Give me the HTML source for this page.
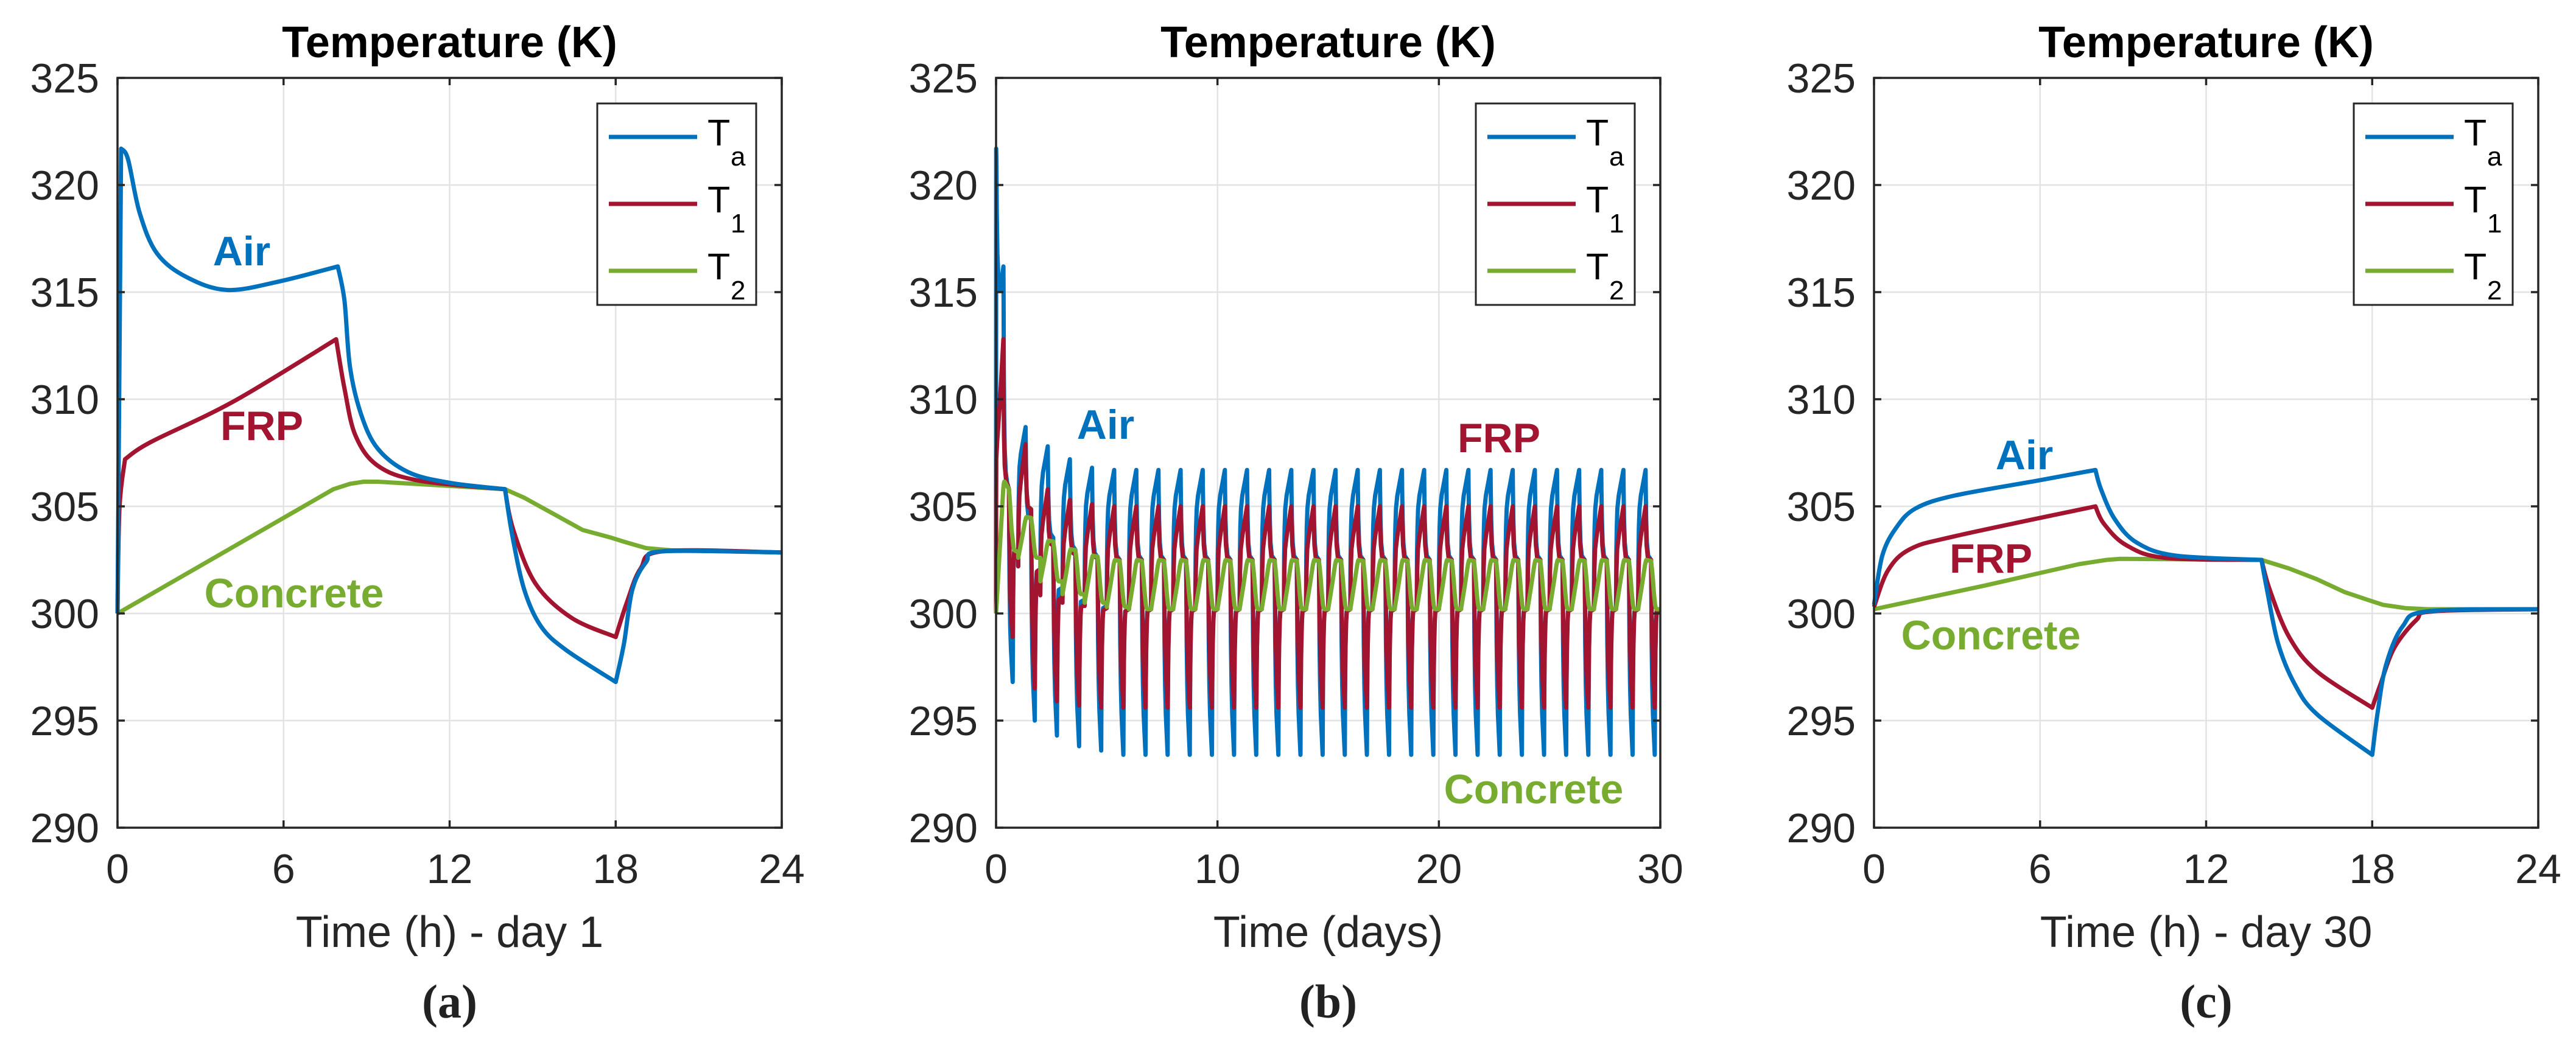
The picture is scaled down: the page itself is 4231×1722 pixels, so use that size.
<!DOCTYPE html>
<html><head><meta charset="utf-8"><style>
html,body{margin:0;padding:0;background:#fff;}
svg{display:block;}
text{font-family:"Liberation Sans",Arial,sans-serif;}
</style></head><body>
<svg id="fig" width="4231" height="1722" viewBox="0 0 4231 1722" xmlns="http://www.w3.org/2000/svg"></svg>
<script>
// ---- data ----
const yTicks = [290, 295, 300, 305, 310, 315, 320, 325];
const hourTicks = [0, 6, 12, 18, 24];
const dayTicks = [0, 10, 20, 30];

// Panel (a) day 1 (hours)
const aTaH = [0, 0.13, 0.38, 0.8, 1.43, 2.5, 3.96, 5.85, 7.96, 8.2, 8.4, 8.8, 9.4, 10.5, 12, 14, 14.27, 14.7, 15.3, 16.2, 18, 18.3, 18.6, 19.1, 19.7, 24];
const aTaV = [300, 321.7, 321.2, 318.7, 316.8, 315.7, 315.1, 315.5, 316.2, 314.6, 311.5, 309.3, 307.7, 306.6, 306.1, 305.8, 303.6, 301.1, 299.4, 298.3, 296.8, 298.6, 301.1, 302.4, 302.9, 302.85];
const aT1H = [0, 0.07, 0.27, 1.2, 4.2, 7.9, 8.2, 8.6, 9.4, 10.9, 14, 14.3, 15.1, 16.4, 18, 18.4, 18.9, 19.7, 24];
const aT1V = [300, 304.9, 307.2, 308.0, 309.9, 312.8, 310.5, 308.3, 306.9, 306.2, 305.8, 303.9, 301.4, 299.8, 298.9, 300.5, 302.1, 302.9, 302.85];
const aT2H = [0, 7.8, 8.4, 8.9, 9.4, 14, 14.7, 16.8, 17.8, 18.3, 19.1, 20, 24];
const aT2V = [300, 305.8, 306.05, 306.15, 306.15, 305.8, 305.4, 303.9, 303.55, 303.35, 303.05, 302.95, 302.85];

// Panel (c) day 30 (hours)
const cTaH = [0, 0.3, 0.8, 1.5, 2.9, 5.9, 8.0, 8.2, 8.7, 9.5, 10.9, 14, 14.2, 14.6, 15.2, 16, 18, 18.2, 18.5, 19.1, 20, 24];
const cTaV = [300.4, 302.7, 304.0, 304.9, 305.5, 306.2, 306.7, 305.8, 304.4, 303.3, 302.7, 302.5, 301.1, 298.6, 296.7, 295.3, 293.4, 295.4, 297.6, 299.4, 300.1, 300.2];
const cT1H = [0, 0.5, 1.3, 2.9, 8.0, 8.3, 9.1, 10.5, 14, 14.3, 15, 16, 18, 18.3, 18.8, 19.6, 20.2, 24];
const cT1V = [300.3, 302.0, 303.0, 303.6, 305.0, 304.2, 303.2, 302.6, 302.5, 301.1, 298.9, 297.3, 295.6, 296.7, 298.4, 299.7, 300.1, 300.2];
const cT2H = [0, 4, 7.4, 8.4, 8.9, 14, 15, 16, 17, 17.8, 18.4, 19.2, 20, 24];
const cT2V = [300.2, 301.3, 302.3, 302.5, 302.55, 302.5, 302.1, 301.6, 301.0, 300.65, 300.4, 300.25, 300.2, 300.2];

// Panel (b) per-day extremes (day 0 uses panel a)
const bPeakA   = [321.7,308.7,307.8,307.2,306.8,306.7,306.7,306.7,306.7,306.7,306.7,306.7,306.7,306.7,306.7,306.7,306.7,306.7,306.7,306.7,306.7,306.7,306.7,306.7,306.7,306.7,306.7,306.7,306.7,306.7];
const bTroughA = [296.8,295.0,294.3,293.8,293.6,293.4,293.4,293.4,293.4,293.4,293.4,293.4,293.4,293.4,293.4,293.4,293.4,293.4,293.4,293.4,293.4,293.4,293.4,293.4,293.4,293.4,293.4,293.4,293.4,293.4];
const bPeak1   = [312.8,307.9,305.8,305.3,305.1,305.0,305.0,305.0,305.0,305.0,305.0,305.0,305.0,305.0,305.0,305.0,305.0,305.0,305.0,305.0,305.0,305.0,305.0,305.0,305.0,305.0,305.0,305.0,305.0,305.0];
const bTrough1 = [298.9,296.5,295.9,295.7,295.6,295.6,295.6,295.6,295.6,295.6,295.6,295.6,295.6,295.6,295.6,295.6,295.6,295.6,295.6,295.6,295.6,295.6,295.6,295.6,295.6,295.6,295.6,295.6,295.6,295.6];
const bPeak2   = [306.1,304.5,303.4,303.0,302.7,302.5,302.5,302.5,302.5,302.5,302.5,302.5,302.5,302.5,302.5,302.5,302.5,302.5,302.5,302.5,302.5,302.5,302.5,302.5,302.5,302.5,302.5,302.5,302.5,302.5];
const bTrough2 = [300.0,302.6,301.5,300.9,300.5,300.3,300.2,300.2,300.2,300.2,300.2,300.2,300.2,300.2,300.2,300.2,300.2,300.2,300.2,300.2,300.2,300.2,300.2,300.2,300.2,300.2,300.2,300.2,300.2,300.2];

// ---- drawing ----
const NS = "http://www.w3.org/2000/svg";
const svg = document.getElementById('fig');
const BLUE = "#0072BD", RED = "#A2142F", GREEN = "#77AC30";
const TOP = 128, H = 1232, W = 1091;

function mk(tag, attrs, parent) {
  const e = document.createElementNS(NS, tag);
  for (const k in attrs) e.setAttribute(k, attrs[k]);
  (parent || svg).appendChild(e);
  return e;
}

function panel(ox, xmax, xt, xlabel, letter, key) {
  const g = mk('g', {});
  
  
  const sx = v => ox + v / xmax * W;
  const sy = v => TOP + (325 - v) / 35 * H;
  yTicks.forEach(t => {
    const l = mk('line', {x1: ox, x2: ox + W, y1: sy(t), y2: sy(t), stroke: '#e3e3e3', 'stroke-width': 2.5}, g);
    
    
  });
  xt.forEach(t => {
    const l = mk('line', {x1: sx(t), x2: sx(t), y1: TOP, y2: TOP + H, stroke: '#e3e3e3', 'stroke-width': 2.5}, g);
    
    
  });
  return {g, sx, sy, ox, xt, xlabel, letter, key, xmax};
}

function finishPanel(p) {
  const {g, sx, sy, ox, xt, xlabel, letter} = p;
  const box = mk('rect', {x: ox, y: TOP, width: W, height: H, fill: 'none', stroke: '#262626', 'stroke-width': 3.5}, g);
  
  
  yTicks.forEach(t => {
    mk('line', {x1: ox, x2: ox + 12, y1: sy(t), y2: sy(t), stroke: '#262626', 'stroke-width': 3.5}, g);
    mk('line', {x1: ox + W - 12, x2: ox + W, y1: sy(t), y2: sy(t), stroke: '#262626', 'stroke-width': 3.5}, g);
    const tx = mk('text', {x: ox - 30, y: sy(t) + 24, 'text-anchor': 'end', 'font-size': 68, fill: '#262626'}, g);
    tx.textContent = t;
    
    
  });
  xt.forEach(t => {
    mk('line', {x1: sx(t), x2: sx(t), y1: TOP + H, y2: TOP + H - 12, stroke: '#262626', 'stroke-width': 3.5}, g);
    mk('line', {x1: sx(t), x2: sx(t), y1: TOP, y2: TOP + 12, stroke: '#262626', 'stroke-width': 3.5}, g);
    const tx = mk('text', {x: sx(t), y: 1451, 'text-anchor': 'middle', 'font-size': 68, fill: '#262626'}, g);
    tx.textContent = t;
    
    
  });
  const cx = ox + W / 2;
  const ti = mk('text', {x: cx, y: 94, 'text-anchor': 'middle', 'font-size': 72, 'font-weight': 'bold', fill: '#000'}, g);
  ti.textContent = 'Temperature (K)';
  
  
  const xl = mk('text', {x: cx, y: 1556, 'text-anchor': 'middle', 'font-size': 72, fill: '#262626'}, g);
  xl.textContent = xlabel;
  
  
  const lt = mk('text', {x: cx, y: 1672, 'text-anchor': 'middle', 'font-size': 78, 'font-weight': 'bold', fill: '#222', style: 'font-family:"Liberation Serif",serif'}, g);
  lt.textContent = letter;
  
  
  const lx = ox + W - 42 - 261, ly = TOP + 42;
  const lg = mk('g', {}, g);
  
  
  mk('rect', {x: lx, y: ly, width: 261, height: 331, fill: '#fff', stroke: '#262626', 'stroke-width': 3}, lg);
  const entries = [[BLUE, 'a'], [RED, '1'], [GREEN, '2']];
  entries.forEach((en, i) => {
    const yy = ly + 55 + i * 110;
    const eg = mk('g', {}, lg);
    
    
    mk('line', {x1: lx + 19, x2: lx + 164, y1: yy, y2: yy, stroke: en[0], 'stroke-width': 7}, eg);
    const t = mk('text', {x: lx + 181, y: yy + 14, 'font-size': 61, fill: '#000'}, eg);
    t.textContent = 'T';
    const s = mk('text', {x: lx + 219, y: yy + 47, 'font-size': 44, fill: '#000'}, eg);
    s.textContent = en[1];
  });
}

// smooth path: Catmull-Rom within segments, sharp at corner x-values
function line(p, xs, ys, color, name, w, corners) {
  const pts = xs.map((x, i) => [p.sx(x), p.sy(ys[i])]);
  const isCorner = i => i === 0 || i === xs.length - 1 || (corners || []).some(c => Math.abs(c - xs[i]) < 1e-6);
  let d = 'M' + pts[0][0].toFixed(1) + ',' + pts[0][1].toFixed(1);
  if (!corners) {
    for (let i = 1; i < pts.length; i++) d += 'L' + pts[i][0].toFixed(1) + ',' + pts[i][1].toFixed(1);
  } else {
    for (let i = 0; i < pts.length - 1; i++) {
      const p1 = pts[i], p2 = pts[i + 1];
      const p0 = isCorner(i) ? p1 : pts[i - 1];
      const p3 = isCorner(i + 1) ? p2 : pts[i + 2];
      const c1 = [p1[0] + (p2[0] - p0[0]) / 6, p1[1] + (p2[1] - p0[1]) / 6];
      const c2 = [p2[0] - (p3[0] - p1[0]) / 6, p2[1] - (p3[1] - p1[1]) / 6];
      d += 'C' + c1[0].toFixed(1) + ',' + c1[1].toFixed(1) + ' ' + c2[0].toFixed(1) + ',' + c2[1].toFixed(1) + ' ' + p2[0].toFixed(1) + ',' + p2[1].toFixed(1);
    }
  }
  const path = mk('path', {d, fill: 'none', stroke: color, 'stroke-width': w || 7, 'stroke-linejoin': 'round'}, p.g);
  
  
}

function label(p, x, y, txt, color) {
  const t = mk('text', {x, y, 'text-anchor': 'middle', 'font-size': 68, 'font-weight': 'bold', fill: color}, p.g);
  t.textContent = txt;
  
  
}

// Panel a
const pa = panel(193, 24, hourTicks, 'Time (h) - day 1', '(a)', 'a');
line(pa, aT2H, aT2V, GREEN, 'line-t2', 7);
line(pa, aT1H, aT1V, RED, 'line-t1', 7, [0.27, 7.9, 14, 18]);
line(pa, aTaH, aTaV, BLUE, 'line-ta', 7, [0.13, 7.96, 14, 18]);
label(pa, 397, 436, 'Air', BLUE);
label(pa, 430, 723, 'FRP', RED);
label(pa, 483, 998, 'Concrete', GREEN);
finishPanel(pa);

// Panel b
const pb = panel(1636, 30, dayTicks, 'Time (days)', '(b)', 'b');
function series30(aH, aV, cH, cV, pk, tr) {
  const xs = [], ys = [];
  aH.forEach((h, i) => { xs.push(h / 24); ys.push(aV[i]); });
  const m = Math.min(...cV), M = Math.max(...cV);
  for (let d = 1; d < 30; d++) {
    cH.forEach((h, i) => {
      const t = (cV[i] - m) / (M - m);
      xs.push(d + h / 24);
      ys.push(tr[d] + t * (pk[d] - tr[d]));
    });
  }
  return [xs, ys];
}
const bA = series30(aTaH, aTaV, cTaH, cTaV, bPeakA, bTroughA);
const b1 = series30(aT1H, aT1V, cT1H, cT1V, bPeak1, bTrough1);
const b2 = series30(aT2H, aT2V, cT2H, cT2V, bPeak2, bTrough2);
line(pb, bA[0], bA[1], BLUE, 'line-ta', 7);
line(pb, b1[0], b1[1], RED, 'line-t1', 7);
line(pb, b2[0], b2[1], GREEN, 'line-t2', 7);
label(pb, 1816, 721, 'Air', BLUE);
label(pb, 2462, 743, 'FRP', RED);
label(pb, 2519, 1320, 'Concrete', GREEN);
finishPanel(pb);

// Panel c
const pc = panel(3078, 24, hourTicks, 'Time (h) - day 30', '(c)', 'c');
line(pc, cT2H, cT2V, GREEN, 'line-t2', 7);
line(pc, cT1H, cT1V, RED, 'line-t1', 7, [8.0, 14, 18]);
line(pc, cTaH, cTaV, BLUE, 'line-ta', 7, [8.0, 14, 18]);
label(pc, 3325, 771, 'Air', BLUE);
label(pc, 3270, 941, 'FRP', RED);
label(pc, 3270, 1067, 'Concrete', GREEN);
finishPanel(pc);
</script>
</body></html>
